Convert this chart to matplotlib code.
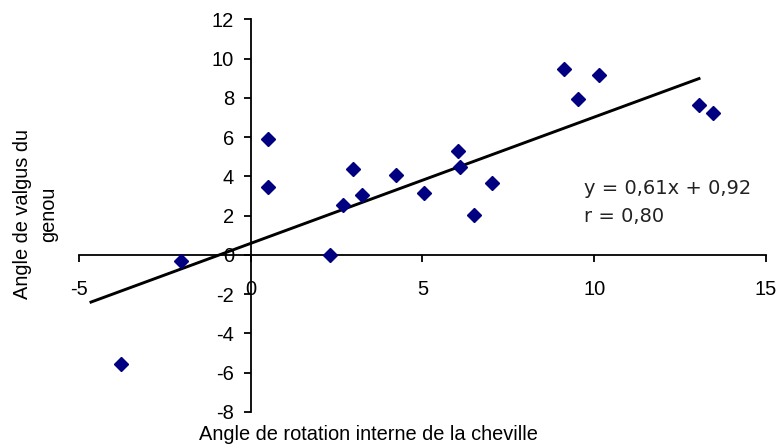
import matplotlib
matplotlib.use("Agg")
import matplotlib.pyplot as plt

plt.rcParams["font.family"] = ["Liberation Sans", "DejaVu Sans"]
plt.rcParams["axes.unicode_minus"] = False

# points
rotation = [0.49, 0.49, 2.70, 2.99, 3.24, 4.23, 5.05, 6.04, 6.09, 7.03, 6.51,
            9.13, 10.13, 9.54, 13.04, 13.46, -2.04, 2.30, -3.77]
valgus = [5.9, 3.45, 2.57, 4.37, 3.05, 4.08, 3.16, 5.3, 4.47, 3.69, 2.02,
          9.49, 9.18, 7.96, 7.65, 7.23, -0.32, 0.0, -5.56]

# trend line as drawn in the picture
trend_x = [-4.65, 13.05]
trend_y = [-2.4, 8.99]

x_ticks = [-5, 0, 5, 10, 15]
y_ticks = [-8, -6, -4, -2, 0, 2, 4, 6, 8, 10, 12]

fig = plt.figure(figsize=(7.78, 4.48), dpi=100)
ax = fig.add_axes([0.1015, 0.0804, 0.8831, 0.8761])

ax.plot(trend_x, trend_y, color="black", linewidth=2.1, zorder=2)
ax.plot(rotation, valgus, linestyle="none", marker="D", markersize=7.5,
        color="#000080", zorder=3)

ax.set_xlim(-5, 15)
ax.set_ylim(-8, 12)
ax.set_xticks(x_ticks)
ax.set_yticks(y_ticks)

# axes crossing at the origin
ax.spines["left"].set_position(("data", 0))
ax.spines["bottom"].set_position(("data", 0))
ax.spines[["top", "right"]].set_visible(False)
for s in ("left", "bottom"):
    ax.spines[s].set_linewidth(1.3)

ax.tick_params(axis="both", direction="out", length=5, width=1.3,
               labelsize=14.5, colors="black")
ax.tick_params(axis="x", pad=13)
ax.tick_params(axis="y", pad=7)

eq_font = dict(fontsize=14, color="#222222", family=["DejaVu Sans"],
               va="baseline")
ax.text(9.71, 3.11, "y = 0,61x + 0,92", **eq_font)
ax.text(9.71, 1.68, "r = 0,80", **eq_font)

fig.text(0.474, 0.018, "Angle de rotation interne de la cheville",
         fontsize=14.4, ha="center", va="baseline")
fig.text(0.046, 0.522, "Angle de valgus du\ngenou", fontsize=14.4,
         rotation=90, ha="center", va="center", multialignment="center",
         linespacing=1.45)

fig.savefig("out.png", dpi=100)
